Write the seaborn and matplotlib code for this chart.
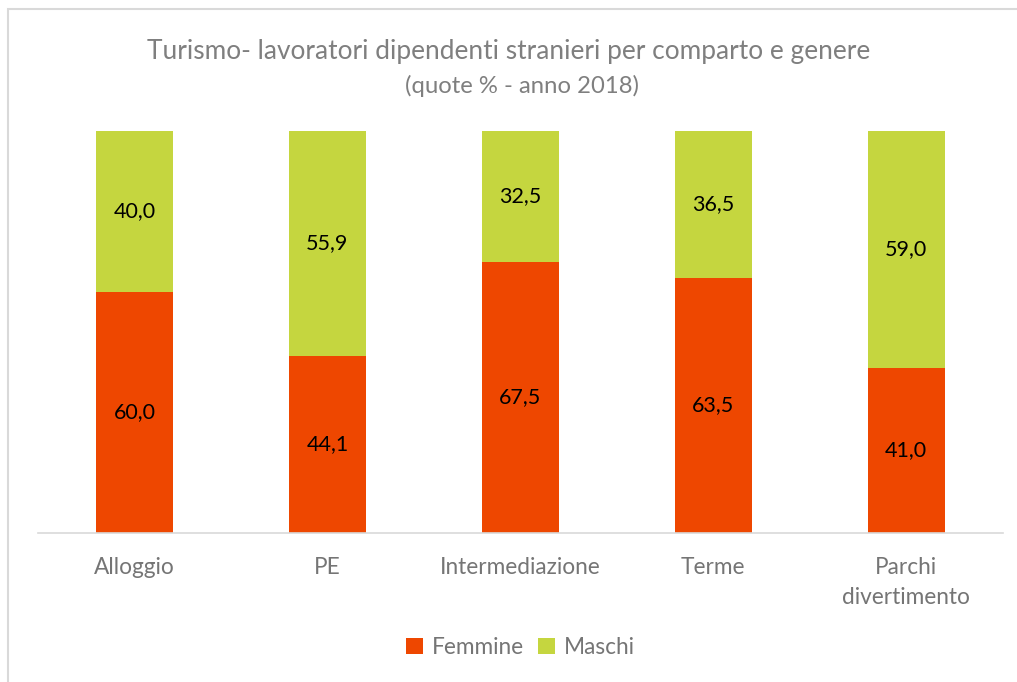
import matplotlib
matplotlib.use("Agg")
import matplotlib.pyplot as plt
import seaborn as sns
import pandas as pd

# dati
comparti = ["Alloggio", "PE", "Intermediazione", "Terme", "Parchi\ndivertimento"]
femmine = [60.0, 44.1, 67.5, 63.5, 41.0]
maschi = [40.0, 55.9, 32.5, 36.5, 59.0]

col_f = "#EE4700"
col_m = "#C5D63F"
grigio = "#7F7F7F"

sns.set_theme(style="white")
plt.rcParams["font.family"] = ["Lato", "DejaVu Sans"]

df = pd.DataFrame({"comparto": comparti, "Femmine": femmine, "Maschi": maschi})
df["totale"] = df["Femmine"] + df["Maschi"]

fig = plt.figure(figsize=(10.17, 6.82), dpi=100)
ax = fig.add_axes([0.0374, 0.2185, 0.9486, 0.5895])

# barre impilate: prima il totale (verde), poi le femmine sopra (arancio)
sns.barplot(data=df, x="comparto", y="totale", color=col_m, width=0.4,
            saturation=1, ax=ax, label="Maschi", linewidth=0)
sns.barplot(data=df, x="comparto", y="Femmine", color=col_f, width=0.4,
            saturation=1, ax=ax, label="Femmine", linewidth=0)

for i in range(len(comparti)):
    ax.text(i, femmine[i] / 2, f"{femmine[i]:.1f}".replace(".", ","),
            ha="center", va="center", fontsize=15.5, color="black")
    ax.text(i, femmine[i] + maschi[i] / 2, f"{maschi[i]:.1f}".replace(".", ","),
            ha="center", va="center", fontsize=15.5, color="black")

ax.set_xlim(-0.5, 4.5)
ax.set_ylim(0, 100)
ax.set_yticks([])
ax.set_xlabel("")
ax.set_ylabel("")
for s in ["top", "right", "left"]:
    ax.spines[s].set_visible(False)
ax.spines["bottom"].set_color("#D9D9D9")
ax.spines["bottom"].set_linewidth(1.2)
ax.tick_params(axis="x", length=0, pad=17, labelsize=16.3, labelcolor="#757575")
for t in ax.get_xticklabels():
    t.set_linespacing(1.55)
    t.set_verticalalignment("top")

fig.text(0.5, 0.925, "Turismo- lavoratori dipendenti stranieri per comparto e genere",
         ha="center", va="center", fontsize=18.9, color=grigio)
fig.text(0.513, 0.874, "(quote % - anno 2018)", ha="center", va="center",
         fontsize=17.2, color=grigio)

handles, labels = ax.get_legend_handles_labels()
order = [labels.index("Femmine"), labels.index("Maschi")]
fig.legend([handles[k] for k in order], [labels[k] for k in order],
           loc="center", bbox_to_anchor=(0.512, 0.051), ncol=2, frameon=False,
           fontsize=16.3, labelcolor="#757575", handlelength=0.75, handleheight=0.75,
           columnspacing=0.6, handletextpad=0.4)
if ax.get_legend():
    ax.get_legend().remove()

# cornice del grafico
fig.patches.append(plt.Rectangle((8 / 1017, -0.1), 1.2, 1 - 9 / 682 + 0.1,
                                 transform=fig.transFigure, fill=False,
                                 edgecolor="#D9D9D9", linewidth=1.5))

fig.savefig("out.png", dpi=100)
